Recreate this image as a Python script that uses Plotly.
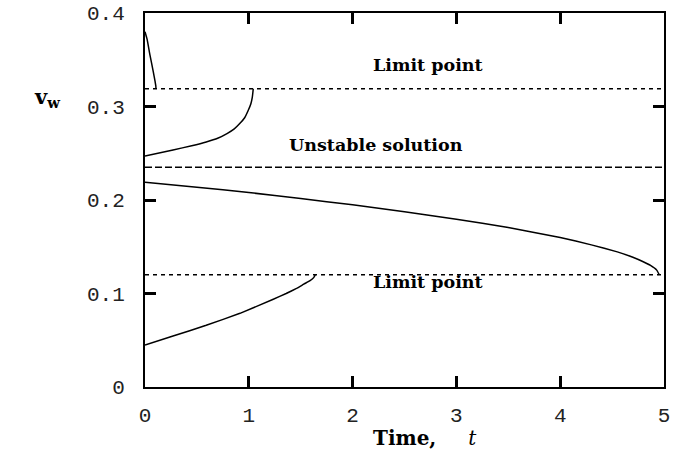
import plotly.graph_objects as go

# Branch curves (time t, v_w)
c1_t = [0.0, 0.02, 0.048, 0.08, 0.097, 0.104, 0.106]
c1_v = [0.380, 0.372, 0.355, 0.337, 0.327, 0.322, 0.319]

c2_t = [0.0, 0.27, 0.45, 0.59, 0.70, 0.79, 0.86, 0.915, 0.96, 0.995, 1.02, 1.034, 1.043]
c2_v = [0.247, 0.2535, 0.258, 0.262, 0.266, 0.271, 0.276, 0.282, 0.288, 0.296, 0.303, 0.310, 0.319]

c3_t = [0.0, 0.5, 1.0, 1.5, 2.0, 2.5, 3.0, 3.5, 4.0, 4.3, 4.55, 4.70, 4.80, 4.87, 4.93, 4.955]
c3_v = [0.219, 0.2137, 0.208, 0.2015, 0.1948, 0.1875, 0.1795, 0.1705, 0.160, 0.152, 0.1445, 0.1388, 0.134, 0.130, 0.125, 0.120]

c4_t = [0.0, 0.27, 0.59, 0.915, 1.236, 1.36, 1.46, 1.53, 1.59, 1.625, 1.64]
c4_v = [0.045, 0.0545, 0.066, 0.0788, 0.0938, 0.100, 0.1055, 0.110, 0.1137, 0.117, 0.120]

# Horizontal reference levels
upper_limit = 0.319
unstable = 0.235
lower_limit = 0.120

x_ticks = [0, 1, 2, 3, 4, 5]
x_ticktext = ["0", "1", "2", "3", "4", "5"]
y_ticks = [0, 0.1, 0.2, 0.3, 0.4]
y_ticktext = ["0", "0.1", "0.2", "0.3", "0.4"]

fig = go.Figure()
for t, v in [(c1_t, c1_v), (c2_t, c2_v), (c3_t, c3_v), (c4_t, c4_v)]:
    fig.add_trace(go.Scatter(x=t, y=v, mode="lines",
                             line=dict(color="black", width=1.5, shape="spline", smoothing=0.3),
                             showlegend=False, hoverinfo="skip"))

fig.add_trace(go.Scatter(x=[0, 5], y=[upper_limit, upper_limit], mode="lines",
                         line=dict(color="black", width=1.5, dash="4px,4px"), showlegend=False))
fig.add_trace(go.Scatter(x=[0, 5], y=[unstable, unstable], mode="lines",
                         line=dict(color="black", width=1.5, dash="7px,3px"), showlegend=False))
fig.add_trace(go.Scatter(x=[0, 5], y=[lower_limit, lower_limit], mode="lines",
                         line=dict(color="black", width=1.5, dash="4px,4px"), showlegend=False))

lab_font = dict(family="DejaVu Serif", size=17.5, color="black")
fig.add_annotation(x=2.73, y=0.344, text="<b>Limit point</b>", showarrow=False, font=lab_font)
fig.add_annotation(x=2.225, y=0.259, text="<b>Unstable solution</b>", showarrow=False, font=lab_font)
fig.add_annotation(x=2.73, y=0.112, text="<b>Limit point</b>", showarrow=False, font=lab_font)

# Axis titles
fig.add_annotation(xref="paper", yref="paper", x=-0.189, y=0.775, xanchor="center", yanchor="middle",
                   text="<b>v<sub>w</sub></b>", showarrow=False,
                   font=dict(family="DejaVu Serif", size=21, color="black"))
fig.add_annotation(xref="paper", yref="paper", x=0.54, y=-0.136, xanchor="center", yanchor="middle",
                   text="<b>Time,</b>     <i>t</i>", showarrow=False,
                   font=dict(family="DejaVu Serif", size=20, color="black"))

axis_common = dict(showgrid=False, zeroline=False, showline=True, linecolor="black", linewidth=2,
                   mirror="ticks", ticks="inside", ticklen=11, tickwidth=2.5, tickcolor="black",
                   automargin=False,
                   tickfont=dict(family="Liberation Mono", size=21, color="#222"))
fig.update_xaxes(range=[0, 5], tickvals=x_ticks, ticktext=x_ticktext, ticklabelstandoff=8, **axis_common)
fig.update_yaxes(range=[0, 0.4], tickvals=y_ticks, ticktext=y_ticktext, ticklabelstandoff=14, **axis_common)

fig.update_layout(width=679, height=457, margin=dict(l=145, r=15, t=13, b=70),
                  plot_bgcolor="white", paper_bgcolor="white")
fig.write_html("out.html")
